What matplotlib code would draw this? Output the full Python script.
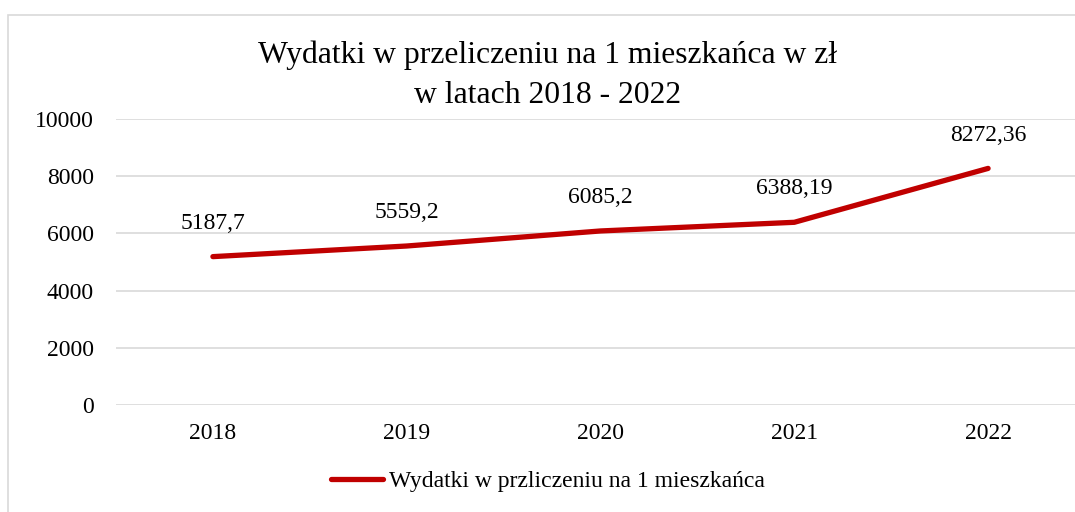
import matplotlib
matplotlib.use("Agg")
import matplotlib.pyplot as plt
from matplotlib.patches import Rectangle

years = ["2018", "2019", "2020", "2021", "2022"]
values = [5187.7, 5559.2, 6085.2, 6388.19, 8272.36]
value_labels = ["5187,7", "5559,2", "6085,2", "6388,19", "8272,36"]
yticks = [0, 2000, 4000, 6000, 8000, 10000]
title = "Wydatki w przeliczeniu na 1 mieszkańca w zł\nw latach 2018 - 2022"
series_name = "Wydatki w przliczeniu na 1 mieszkańca"

plt.rcParams['font.family'] = ['Liberation Serif', 'DejaVu Serif']

W, H = 1075, 512
fig = plt.figure(figsize=(W/100, H/100), dpi=100)
fig.patches.append(Rectangle((8/W, -0.1), 1.2, 1 - 15/H + 0.1, transform=fig.transFigure,
                             fill=False, edgecolor='#d9d9d9', linewidth=1.2))

ax = fig.add_axes([116/W, 1 - 405/H, (1085-116)/W, (405-119)/H])
x = list(range(len(years)))
line, = ax.plot(x, values, color='#C00000', linewidth=3.8, solid_capstyle='round',
                solid_joinstyle='round', label=series_name)
for xi, v, lab in zip(x, values, value_labels):
    ax.annotate(lab, (xi, v), xytext=(0, 24), textcoords='offset points',
                ha='center', va='center', fontsize=17, color='#000000')

ax.set_xlim(-0.5, 4.5)
ax.set_ylim(0, 10000)
ax.set_xticks(x)
ax.set_xticklabels(years, fontsize=17)
ax.set_yticks(yticks)
ax.set_yticklabels([str(t) for t in yticks], fontsize=17)
ax.tick_params(length=0)
ax.tick_params(axis='y', pad=16)
ax.tick_params(axis='x', pad=13)
ax.grid(axis='y', color='#d9d9d9', linewidth=1.2)
ax.set_axisbelow(True)
for s in ax.spines.values():
    s.set_visible(False)

fig.text(548/W, 1 - 75/H, title, ha='center', va='center', fontsize=22.8, linespacing=1.48)

leg = fig.legend(handles=[line], loc='center', bbox_to_anchor=(548/W, 1 - 481/H),
                 frameon=False, fontsize=17, handlelength=2.2, handletextpad=0.25)

fig.savefig("out.png", dpi=100)
